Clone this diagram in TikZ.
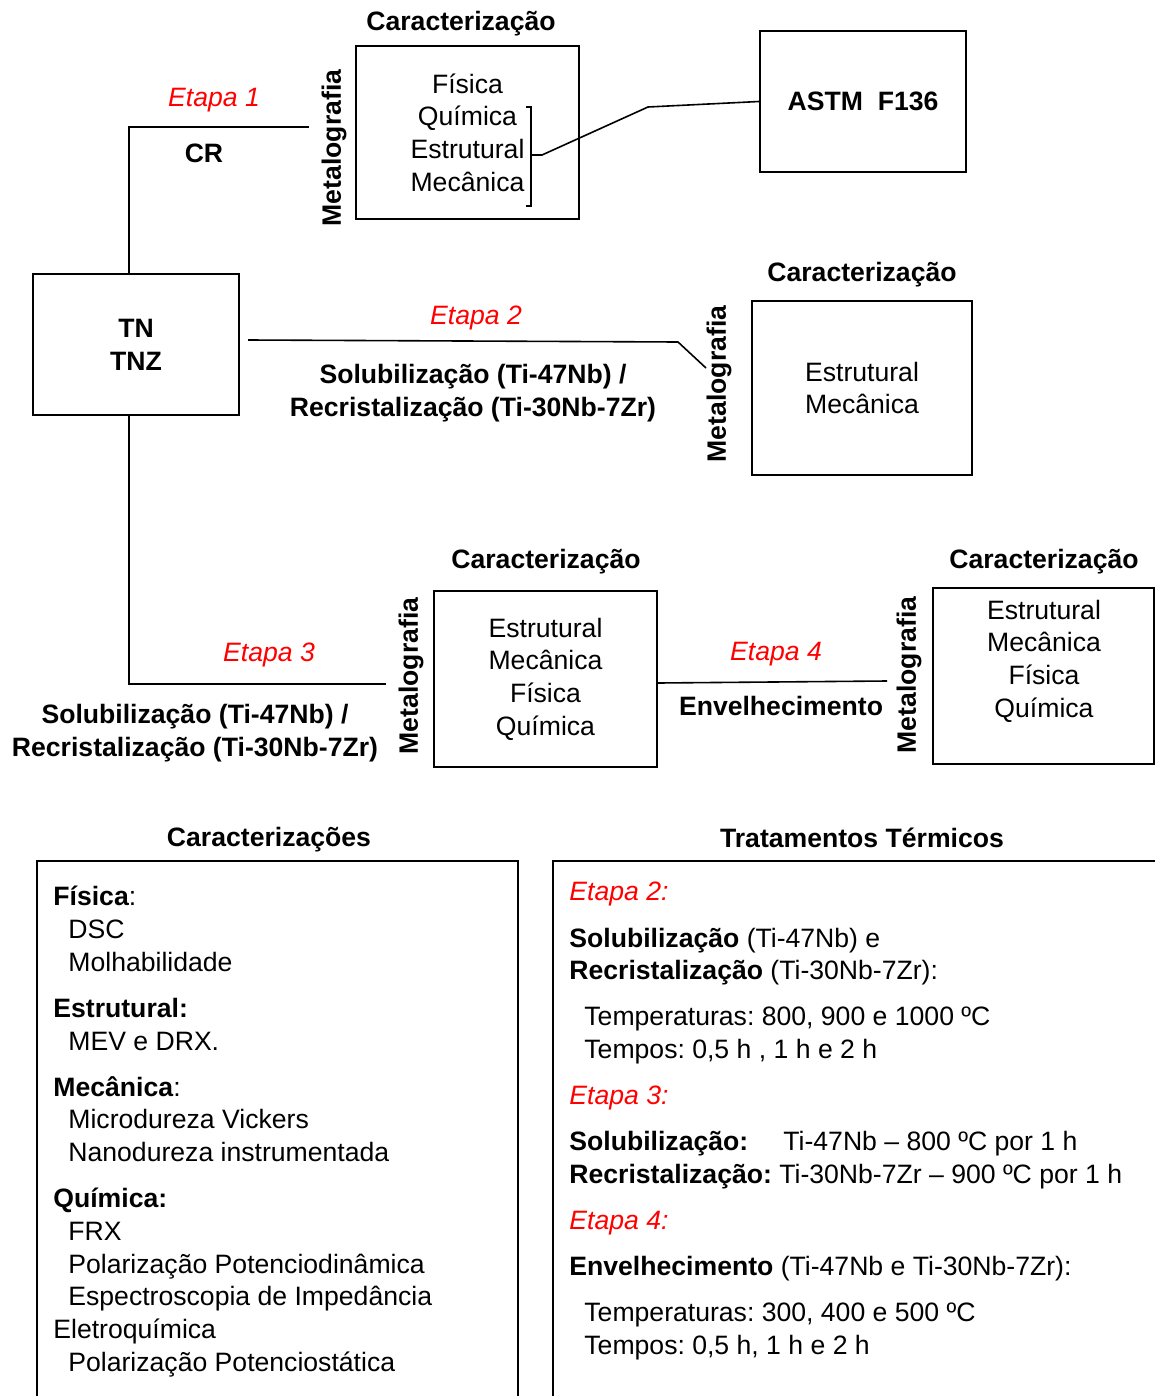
\documentclass[tikz,border=0pt]{standalone}
\usepackage{fontspec}
\setmainfont{Liberation Sans}
\usetikzlibrary{positioning}
\definecolor{colEtapa}{RGB}{255,0,0}
\frenchspacing

\begin{document}
\begin{tikzpicture}[x=0.5pt, y=-0.5pt,
    every node/.style={font=\fontsize{13.3pt}{16.35pt}\selectfont},
    bx/.style={draw, line width=1pt, inner sep=0pt},
    ttl/.style={font=\fontsize{13.3pt}{16.35pt}\selectfont\bfseries, text depth=0pt},
    meta/.style={rotate=90, font=\fontsize{13.3pt}{16.35pt}\selectfont\bfseries},
    etapa/.style={colEtapa, font=\fontsize{13.3pt}{16.35pt}\selectfont\itshape, text depth=0pt},
    cn/.style={line width=0.8pt}
]
    \useasboundingbox (0,0) rectangle (1155,1396);

    % Etapa 1 (CR)
    \node[ttl] (t1) at (461,21) {Caracterização};
    \node[bx, minimum width=111.5pt, minimum height=86.5pt, align=center] (car1) at (467.5,132.5) {Física\\Química\\Estrutural\\Mecânica};
    \node[meta] (m1) at (334,148) {Metalografia};
    \node[bx, ttl, minimum width=103pt, minimum height=70.5pt] (astm) at (863,101.5) {ASTM\ \ F136};
    \node[etapa] (e1) at (214,97) {Etapa 1};
    \node[ttl] (cr) at (204,153) {CR};

    \node[bx, ttl, minimum width=103pt, minimum height=70.5pt, align=center] (tn) at (136,344.5) {TN\\TNZ};

    % Etapa 2
    \node[etapa] (e2) at (476,315) {Etapa 2};
    \node[ttl, align=center] (sol2) at (473,390.5) {Solubilização (Ti-47Nb) /\\Recristalização (Ti-30Nb-7Zr)};
    \node[meta] (m2) at (719,384) {Metalografia};
    \node[ttl] (t2) at (862,272) {Caracterização};
    \node[bx, minimum width=110pt, minimum height=87pt, align=center] (car2) at (862,388) {Estrutural\\Mecânica};

    % Etapa 3
    \node[etapa] (e3) at (269,652) {Etapa 3};
    \node[ttl, align=center] (sol3) at (195,730.5) {Solubilização (Ti-47Nb) /\\Recristalização (Ti-30Nb-7Zr)};
    \node[meta] (m3) at (411,676) {Metalografia};
    \node[ttl] (t3) at (546,559) {Caracterização};
    \node[bx, minimum width=111.5pt, minimum height=88pt, align=center] (car3) at (545.5,679) {Estrutural\\Mecânica\\Física\\Química};

    % Etapa 4
    \node[etapa] (e4) at (776,651) {Etapa 4};
    \node[ttl] (env) at (781,706) {Envelhecimento};
    \node[meta] (m4) at (909,675) {Metalografia};
    \node[ttl] (t4) at (1044,559) {Caracterização};
    \node[bx, minimum width=110.5pt, minimum height=88pt] (car4) at (1043,676) {};
    \node[align=center] (car4txt) at (1044,661) {Estrutural\\Mecânica\\Física\\Química};

    % connections
    \coordinate (e1end) at (309,127);
    \draw[cn] ([xshift=-3.5pt]tn.north) |- (e1end);
    \coordinate (e2a) at (248,340);
    \coordinate (e2b) at (678,342);
    \coordinate (e2c) at (706,368);
    \draw[cn] (e2a) -- (e2b) -- (e2c);
    \coordinate (e3end) at (386,684);
    \draw[cn] ([xshift=-3.5pt]tn.south) |- (e3end);
    \coordinate (e4end) at (887,681);
    \draw[cn] ([yshift=-2pt]car3.east) -- (e4end);

    % bracket to ASTM
    \draw[cn] (526,107) -- (531,107) -- (531,206) -- (526,206);
    \coordinate (brk) at (542,155);
    \draw[cn] (531,155) -- (brk) -- (648,107) -- (astm.west);

    % legends
    \node[ttl] (tc) at (269,837) {Caracterizações};
    \node[bx, anchor=north west, minimum width=240.5pt, minimum height=275pt] (carbox) at (36,860) {};
    \node[anchor=north west, align=left, inner sep=0pt] (carlist) at (53,886) {%
        \textbf{Física}:\\
        \hspace*{7.5pt}DSC\\
        \hspace*{7.5pt}Molhabilidade\\[6.7pt]
        \textbf{Estrutural:}\\
        \hspace*{7.5pt}MEV e DRX.\\[6.7pt]
        \textbf{Mecânica}:\\
        \hspace*{7.5pt}Microdureza Vickers\\
        \hspace*{7.5pt}Nanodureza instrumentada\\[6.7pt]
        \textbf{Química:}\\
        \hspace*{7.5pt}FRX\\
        \hspace*{7.5pt}Polarização Potenciodinâmica\\
        \hspace*{7.5pt}Espectroscopia de Impedância\\
        Eletroquímica\\
        \hspace*{7.5pt}Polarização Potenciostática};

    \node[ttl] (tt) at (862,838) {Tratamentos Térmicos};
    \node[bx, anchor=north west, minimum width=310pt, minimum height=275pt] (ttbox) at (552,860) {};
    \node[anchor=north west, align=left, inner sep=0pt] (ttlist) at (569,882) {%
        {\color{colEtapa}\itshape Etapa 2:}\\[6.7pt]
        \textbf{Solubilização} (Ti-47Nb) e\\
        \textbf{Recristalização} (Ti-30Nb-7Zr):\\[6.7pt]
        \hspace*{7.5pt}Temperaturas: 800, 900 e 1000 ºC\\
        \hspace*{7.5pt}Tempos: 0,5 h , 1 h e 2 h\\[6.7pt]
        {\color{colEtapa}\itshape Etapa 3:}\\[6.7pt]
        \makebox[107pt][l]{\textbf{Solubilização:}}Ti-47Nb – 800 ºC por 1 h\\
        \textbf{Recristalização:} Ti-30Nb-7Zr – 900 ºC por 1 h\\[6.7pt]
        {\color{colEtapa}\itshape Etapa 4:}\\[6.7pt]
        \textbf{Envelhecimento} (Ti-47Nb e Ti-30Nb-7Zr):\\[6.7pt]
        \hspace*{7.5pt}Temperaturas: 300, 400 e 500 ºC\\
        \hspace*{7.5pt}Tempos: 0,5 h, 1 h e 2 h};
\end{tikzpicture}
\end{document}
